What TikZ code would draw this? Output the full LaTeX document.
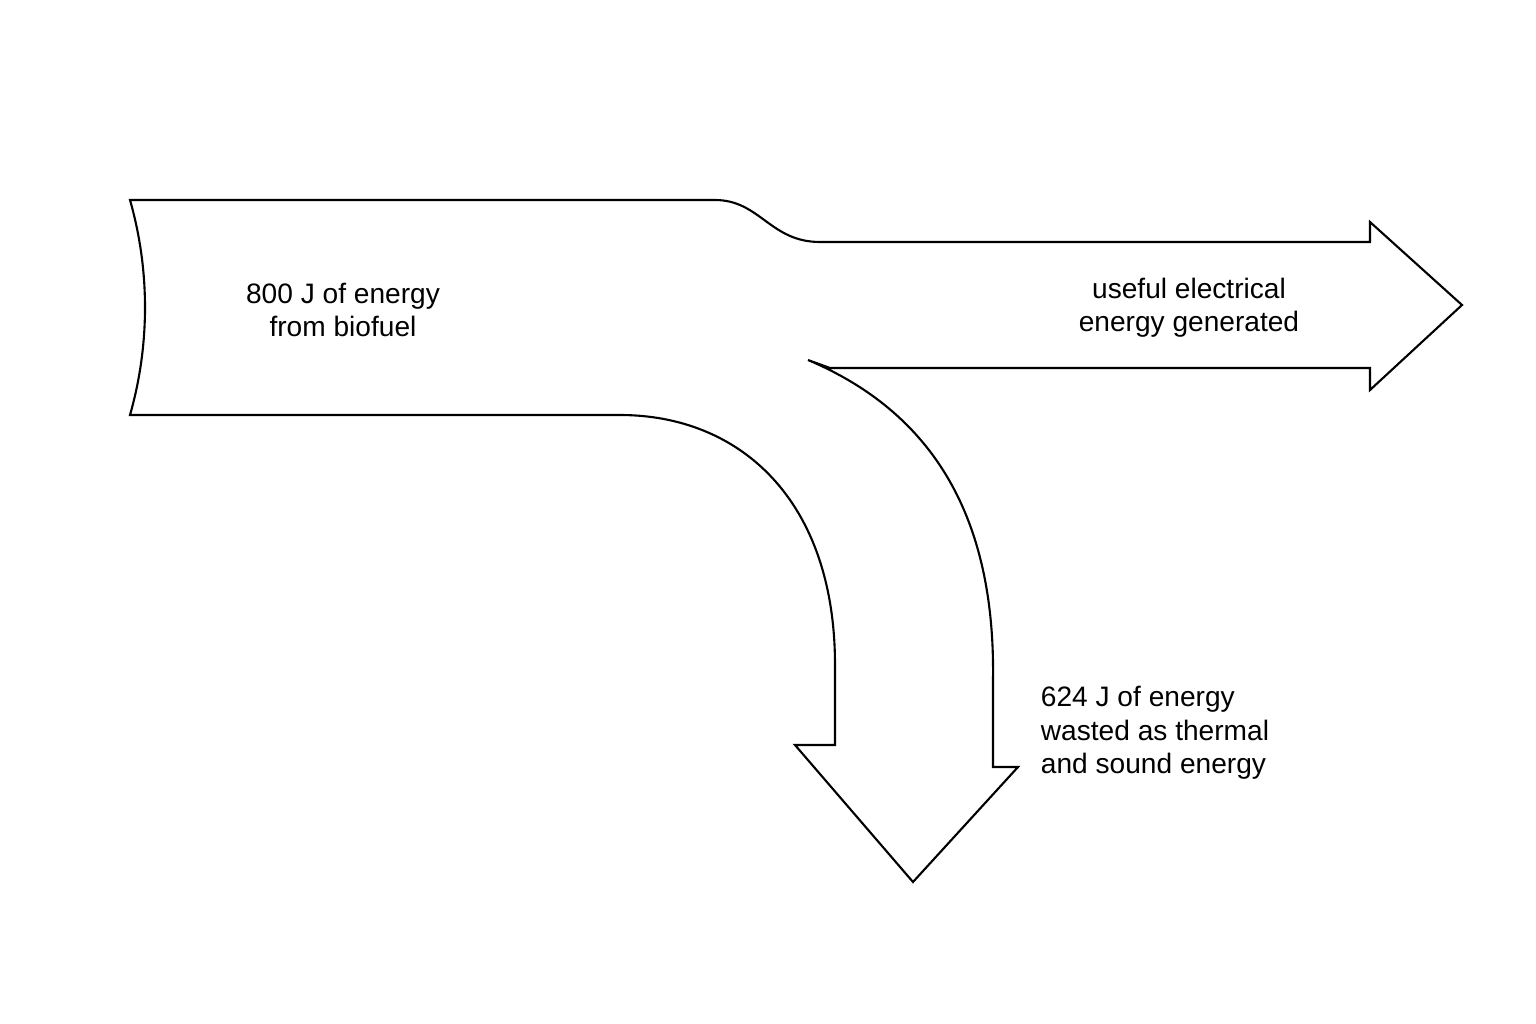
\documentclass[tikz,border=0pt]{standalone}
\usepackage{fontspec}
\setmainfont{Liberation Sans}
\begin{document}
\begin{tikzpicture}[x=0.02cm,y=-0.02cm]
  \tikzset{flow/.style={draw, line width=1.2pt, line join=miter},
           lbl/.style={font=\fontsize{16}{19}\selectfont, align=center}}
  \useasboundingbox (0,0) rectangle (1536,1024);
  % sankey outline
  \draw[flow] (130,200) -- (715,200)
        .. controls (760,200) and (770,242) .. (820,242)
        -- (1370,242) -- (1370,222) -- (1462,305) -- (1370,390) -- (1370,368)
        -- (830,368) -- (808,360)
        .. controls (950,420) and (995,540) .. (993,680)
        -- (993,767) -- (1018,767) -- (913,882) -- (795,745) -- (835,745)
        -- (835,665)
        .. controls (835,500) and (740,415) .. (620,415)
        -- (130,415)
        .. controls (150,345) and (150,270) .. (130,200) -- cycle;
  \node[lbl] (input) at (343,310) {800 J of energy\\from biofuel};
  \node[lbl] (useful) at (1189,308) {useful electrical\\energy generated};
  \node[lbl, align=left] (waste) at (1155,733) {624 J of energy\\wasted as thermal\\ and sound energy};
\end{tikzpicture}
\end{document}
